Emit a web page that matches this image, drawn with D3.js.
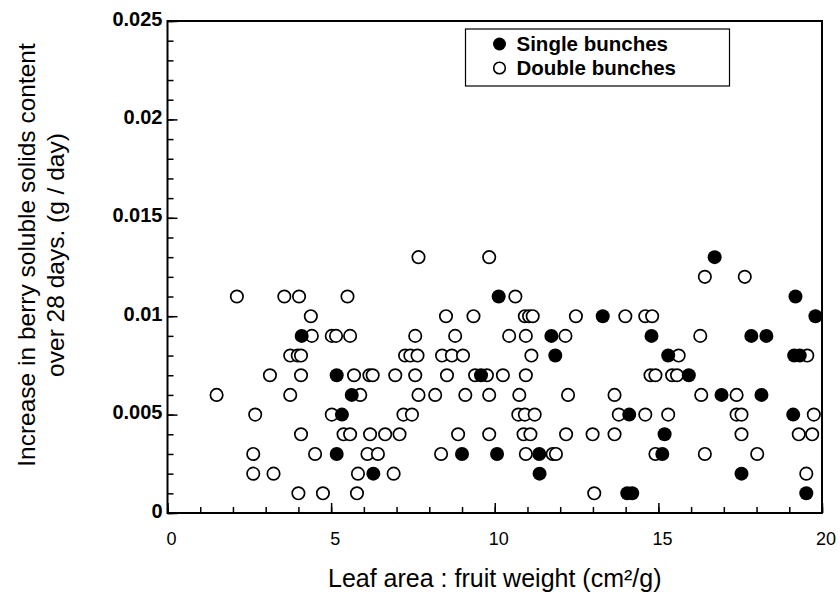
<!DOCTYPE html>
<html lang="en">
<head>
    <meta charset="UTF-8">
    <title>Soluble solids vs leaf area</title>
    <script src="https://d3js.org/d3.v7.min.js"></script>
    <style>
        body { margin: 0; background: #fff; }
        svg { display: block; font-family: "Liberation Sans", Arial, sans-serif; }
        .axis path { display: none; }
        .axis line { stroke: #000; stroke-width: 1.5px; }
        .ylab text { font-size: 20px; font-weight: bold; fill: #000; }
        .xlab text { font-size: 18px; fill: #000; }
    </style>
</head>
<body>
<svg width="840" height="596"></svg>
<script>
    // Data: [leaf area : fruit weight, increase in soluble solids]
    const singleBunches = [
        [4.10, 0.009], [5.17, 0.007], [5.33, 0.005], [5.17, 0.003], [5.63, 0.006],
        [6.29, 0.002], [9.00, 0.003], [9.58, 0.007], [10.07, 0.003], [10.12, 0.011],
        [11.73, 0.009], [11.85, 0.008], [13.30, 0.010], [14.79, 0.009], [14.11, 0.005],
        [11.36, 0.003], [11.37, 0.002], [14.05, 0.001], [14.20, 0.001], [16.72, 0.013],
        [19.19, 0.011], [19.80, 0.010], [17.84, 0.009], [18.30, 0.009], [15.30, 0.008],
        [19.15, 0.008], [19.32, 0.008], [15.93, 0.007], [16.93, 0.006], [18.15, 0.006],
        [19.12, 0.005], [15.19, 0.004], [15.12, 0.003], [17.54, 0.002], [19.52, 0.001]
    ];

    const doubleBunches = [
        [2.12, 0.011], [3.57, 0.011], [4.02, 0.011], [5.50, 0.011], [4.38, 0.010],
        [4.41, 0.009], [5.02, 0.009], [5.15, 0.009], [5.58, 0.009], [3.75, 0.008],
        [3.98, 0.008], [4.08, 0.008], [3.13, 0.007], [4.08, 0.007], [1.50, 0.006],
        [3.75, 0.006], [2.68, 0.005], [5.02, 0.005], [4.08, 0.004], [5.38, 0.004],
        [5.58, 0.004], [2.62, 0.003], [4.51, 0.003], [2.62, 0.002], [3.24, 0.002],
        [4.00, 0.001], [4.75, 0.001],
        [7.67, 0.013], [9.83, 0.013], [10.63, 0.011], [8.51, 0.010], [9.35, 0.010],
        [7.57, 0.009], [8.79, 0.009], [10.44, 0.009], [10.95, 0.009], [12.16, 0.009],
        [7.26, 0.008], [7.42, 0.008], [7.64, 0.008], [8.39, 0.008], [8.69, 0.008],
        [9.03, 0.008], [11.12, 0.008], [5.70, 0.007], [6.17, 0.007], [6.27, 0.007],
        [6.96, 0.007], [7.57, 0.007], [8.54, 0.007], [9.40, 0.007], [9.76, 0.007],
        [10.25, 0.007], [10.95, 0.007], [14.76, 0.007], [14.91, 0.007], [5.89, 0.006],
        [7.67, 0.006], [8.18, 0.006], [9.10, 0.006], [9.83, 0.006], [10.75, 0.006],
        [12.24, 0.006], [13.66, 0.006], [7.21, 0.005], [7.47, 0.005], [10.72, 0.005],
        [10.92, 0.005], [11.22, 0.005], [13.79, 0.005], [14.60, 0.005], [6.19, 0.004],
        [6.65, 0.004], [7.09, 0.004], [8.88, 0.004], [9.83, 0.004], [10.88, 0.004],
        [11.09, 0.004], [12.18, 0.004], [12.99, 0.004], [13.66, 0.004], [6.11, 0.003],
        [6.43, 0.003], [8.36, 0.003], [10.95, 0.003], [11.77, 0.003], [11.87, 0.003],
        [14.91, 0.003], [5.82, 0.002], [6.91, 0.002], [5.79, 0.001], [13.04, 0.001],
        [10.92, 0.010], [11.05, 0.010], [11.16, 0.010], [12.48, 0.010], [13.99, 0.010],
        [14.60, 0.010], [14.81, 0.010],
        [16.42, 0.012], [17.64, 0.012], [16.28, 0.009], [15.62, 0.008], [19.55, 0.008],
        [15.42, 0.007], [15.57, 0.007], [16.31, 0.006], [17.39, 0.006], [15.30, 0.005],
        [17.39, 0.005], [17.54, 0.005], [19.75, 0.005], [17.54, 0.004], [19.29, 0.004],
        [19.70, 0.004], [16.42, 0.003], [18.02, 0.003], [19.52, 0.002]
    ];

    const xTicks = [0, 5, 10, 15, 20];
    const yTicks = [0, 0.005, 0.01, 0.015, 0.02, 0.025];
    const legendLabels = ["Single bunches", "Double bunches"];

    const margin = {top: 21, right: 18, bottom: 83, left: 167.5},
        width = 840 - margin.left - margin.right,
        height = 596 - margin.top - margin.bottom;

    const x = d3.scaleLinear().domain([0, 20]).range([0, width]);
    const y = d3.scaleLinear().domain([0, 0.025]).range([height, 0]);

    const svg = d3.select("svg")
        .append("g")
        .attr("transform", "translate(" + margin.left + "," + margin.top + ")");

    // minor ticks, pointing into the plot
    svg.append("g")
        .attr("class", "axis")
        .call(d3.axisLeft(y).tickValues(d3.range(0, 0.0251, 0.001)).tickSize(-6).tickFormat(""));
    svg.append("g")
        .attr("class", "axis")
        .attr("transform", "translate(0," + height + ")")
        .call(d3.axisBottom(x).tickValues(d3.range(0, 21, 1)).tickSize(-6).tickFormat(""));

    // major ticks with labels
    svg.append("g")
        .attr("class", "axis ylab")
        .call(d3.axisLeft(y).tickValues(yTicks).tickSize(-10).tickPadding(5)
            .tickFormat(d => String(d)));
    svg.selectAll(".ylab text").attr("dy", "0.2em");
    svg.append("g")
        .attr("class", "axis xlab")
        .attr("transform", "translate(0," + height + ")")
        .call(d3.axisBottom(x).tickValues(xTicks).tickSize(-10).tickPadding(19)
            .tickFormat(d3.format("d")));
    svg.selectAll(".xlab text").attr("dx", "0.2em");

    // frame
    svg.append("rect")
        .attr("width", width)
        .attr("height", height)
        .attr("fill", "none")
        .attr("stroke", "#000")
        .attr("stroke-width", 2);

    // points
    svg.selectAll(".dbl")
        .data(doubleBunches)
        .enter().append("circle")
        .attr("class", "dbl")
        .attr("cx", d => x(d[0]))
        .attr("cy", d => y(d[1]))
        .attr("r", 6.2)
        .attr("fill", "#fff")
        .attr("stroke", "#000")
        .attr("stroke-width", 1.7);

    svg.selectAll(".sgl")
        .data(singleBunches)
        .enter().append("circle")
        .attr("class", "sgl")
        .attr("cx", d => x(d[0]))
        .attr("cy", d => y(d[1]))
        .attr("r", 7)
        .attr("fill", "#000");

    // legend
    const legend = svg.append("g").attr("transform", "translate(298,8)");
    legend.append("rect")
        .attr("width", 264)
        .attr("height", 57)
        .attr("fill", "#fff")
        .attr("stroke", "#000")
        .attr("stroke-width", 1.2);
    legendLabels.forEach(function(label, i) {
        const row = legend.append("g").attr("transform", "translate(0," + (15 + i * 24) + ")");
        row.append("circle")
            .attr("cx", 34)
            .attr("cy", 0)
            .attr("r", i === 0 ? 6.5 : 5.8)
            .attr("fill", i === 0 ? "#000" : "#fff")
            .attr("stroke", "#000")
            .attr("stroke-width", i === 0 ? 0 : 1.6);
        row.append("text")
            .attr("x", 51)
            .attr("y", 0)
            .attr("dy", "0.35em")
            .style("font-size", "20.5px")
            .style("font-weight", "bold")
            .text(label);
    });

    // axis titles
    svg.append("text")
        .attr("x", width / 2)
        .attr("y", height + 74)
        .attr("text-anchor", "middle")
        .style("font-size", "25px")
        .text("Leaf area : fruit weight  (cm\u00b2/g)");

    const ytitle = svg.append("text")
        .attr("transform", "translate(" + (-133) + "," + (height / 2 - 12) + ") rotate(-90)")
        .attr("text-anchor", "middle")
        .style("font-size", "24.5px");
    ytitle.append("tspan").attr("x", 0).attr("dy", 0).text("Increase in berry soluble solids content");
    ytitle.append("tspan").attr("x", 0).attr("dy", "1.22em").text("over 28 days. (g / day)");
</script>
</body>
</html>
